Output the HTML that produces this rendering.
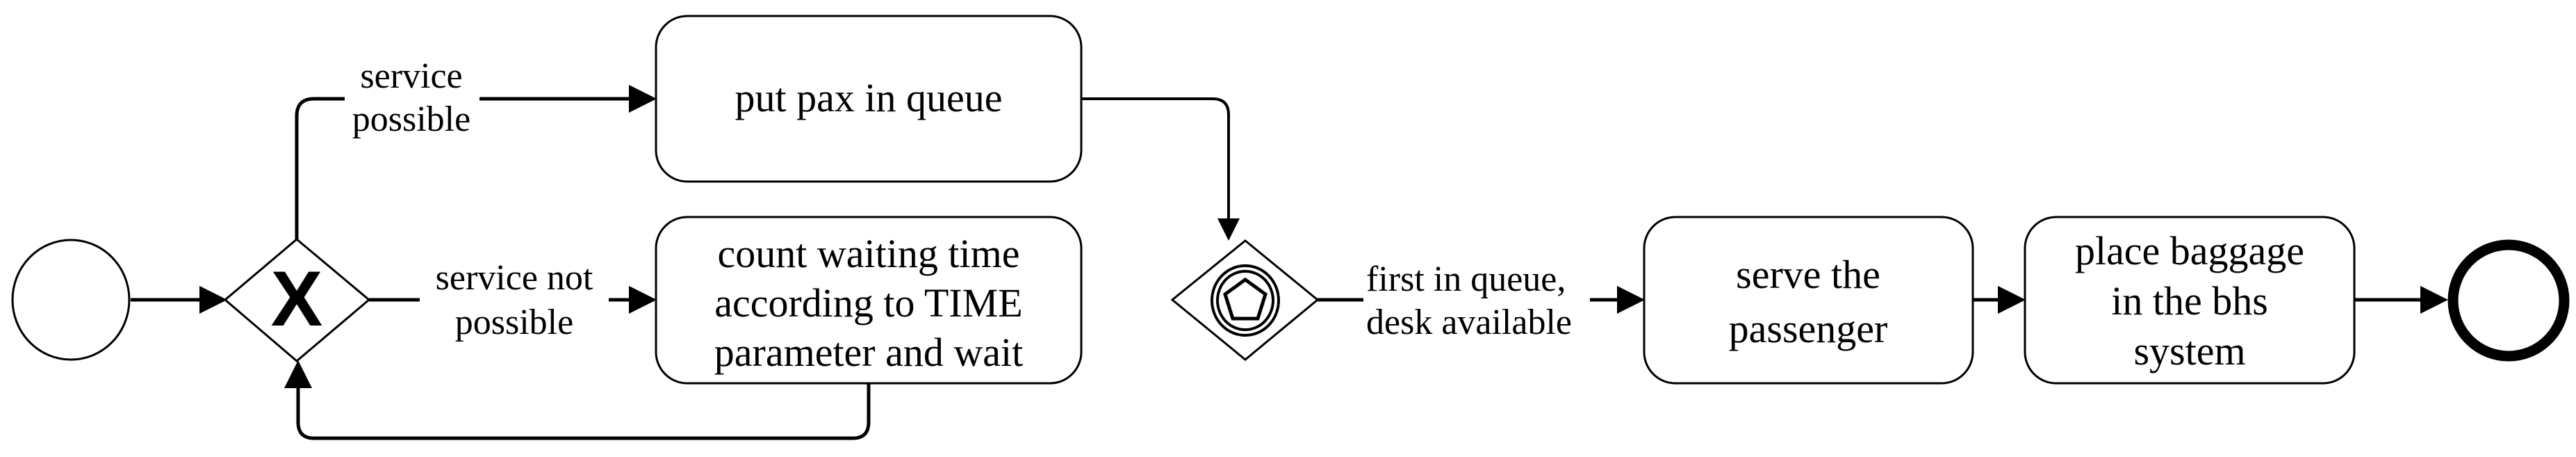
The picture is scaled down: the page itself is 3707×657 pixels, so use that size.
<!DOCTYPE html>
<html><head><meta charset="utf-8"><style>
html,body{margin:0;padding:0;background:#fff}
svg{display:block}
text{font-family:"Liberation Serif",serif;fill:#000}
</style></head><body>
<svg width="3707" height="657" viewBox="0 0 3707 657" xmlns="http://www.w3.org/2000/svg">
<defs>
<marker id="a" markerWidth="8" markerHeight="8" refX="7" refY="4" orient="auto" markerUnits="strokeWidth">
<path d="M0,0 L8,4 L0,8 z" fill="#000"/></marker>
</defs>
<g fill="none" stroke="#000">
<ellipse cx="102" cy="431" rx="84" ry="86" stroke-width="3"/>
<line x1="188" y1="431" x2="322" y2="431" stroke-width="5" marker-end="url(#a)"/>
<path d="M427,344 L531,431 L427,519 L324,431 Z" stroke-width="3"/>
<rect x="944" y="23" width="612" height="238" rx="45" stroke-width="3"/>
<rect x="944" y="312" width="612" height="239" rx="45" stroke-width="3"/>
<rect x="2366" y="312" width="473" height="239" rx="45" stroke-width="3"/>
<rect x="2914" y="312" width="474" height="239" rx="45" stroke-width="3"/>
<path d="M427,344 L427,167 Q427,142 452,142 L940,142" stroke-width="5" marker-end="url(#a)"/>
<path d="M531,431 L940,431" stroke-width="5" marker-end="url(#a)"/>
<path d="M1250,551 L1250,607 Q1250,630 1227,630 L452,630 Q429,630 429,607 L429,523" stroke-width="5" marker-end="url(#a)"/>
<path d="M1556,142 L1745,142 Q1768,142 1768,165 L1768,342" stroke-width="4" marker-end="url(#a)"/>
<path d="M1792,346 L1896,431 L1792,517 L1687,431 Z" stroke-width="3"/>
<ellipse cx="1792" cy="432" rx="48" ry="50" stroke-width="4"/>
<ellipse cx="1792" cy="432" rx="40" ry="42" stroke-width="4"/>
<path d="M1792,402 L1821,423 L1810,458 L1774,458 L1763,423 Z" stroke-width="5"/>
<line x1="1896" y1="431" x2="2362" y2="431" stroke-width="5" marker-end="url(#a)"/>
<line x1="2839" y1="431" x2="2910" y2="431" stroke-width="5" marker-end="url(#a)"/>
<line x1="3388" y1="431" x2="3518" y2="431" stroke-width="5" marker-end="url(#a)"/>
<ellipse cx="3610" cy="432" rx="80" ry="80" stroke-width="15"/>
</g>
<rect x="496" y="88" width="194" height="120" fill="#fff"/>
<rect x="604" y="375" width="272" height="118" fill="#fff"/>
<rect x="1962" y="372" width="326" height="118" fill="#fff"/>
<text x="427" y="468" font-weight="bold" font-size="112" text-anchor="middle" style="font-family:'Liberation Sans',sans-serif">X</text>
<g font-size="52" text-anchor="middle">
<text x="592" y="126">service</text>
<text x="592" y="188">possible</text>
<text x="740" y="416">service not</text>
<text x="740" y="480">possible</text>
</g>
<g font-size="52">
<text x="1966" y="418">first in queue,</text>
<text x="1966" y="480">desk available</text>
</g>
<g font-size="58" text-anchor="middle">
<text x="1250" y="160">put pax in queue</text>
<text x="1250" y="384">count waiting time</text>
<text x="1250" y="455">according to TIME</text>
<text x="1250" y="526">parameter and wait</text>
<text x="2602" y="414">serve the</text>
<text x="2602" y="492">passenger</text>
<text x="3151" y="380">place baggage</text>
<text x="3151" y="452">in the bhs</text>
<text x="3151" y="524">system</text>
</g>
</svg>
</body></html>
